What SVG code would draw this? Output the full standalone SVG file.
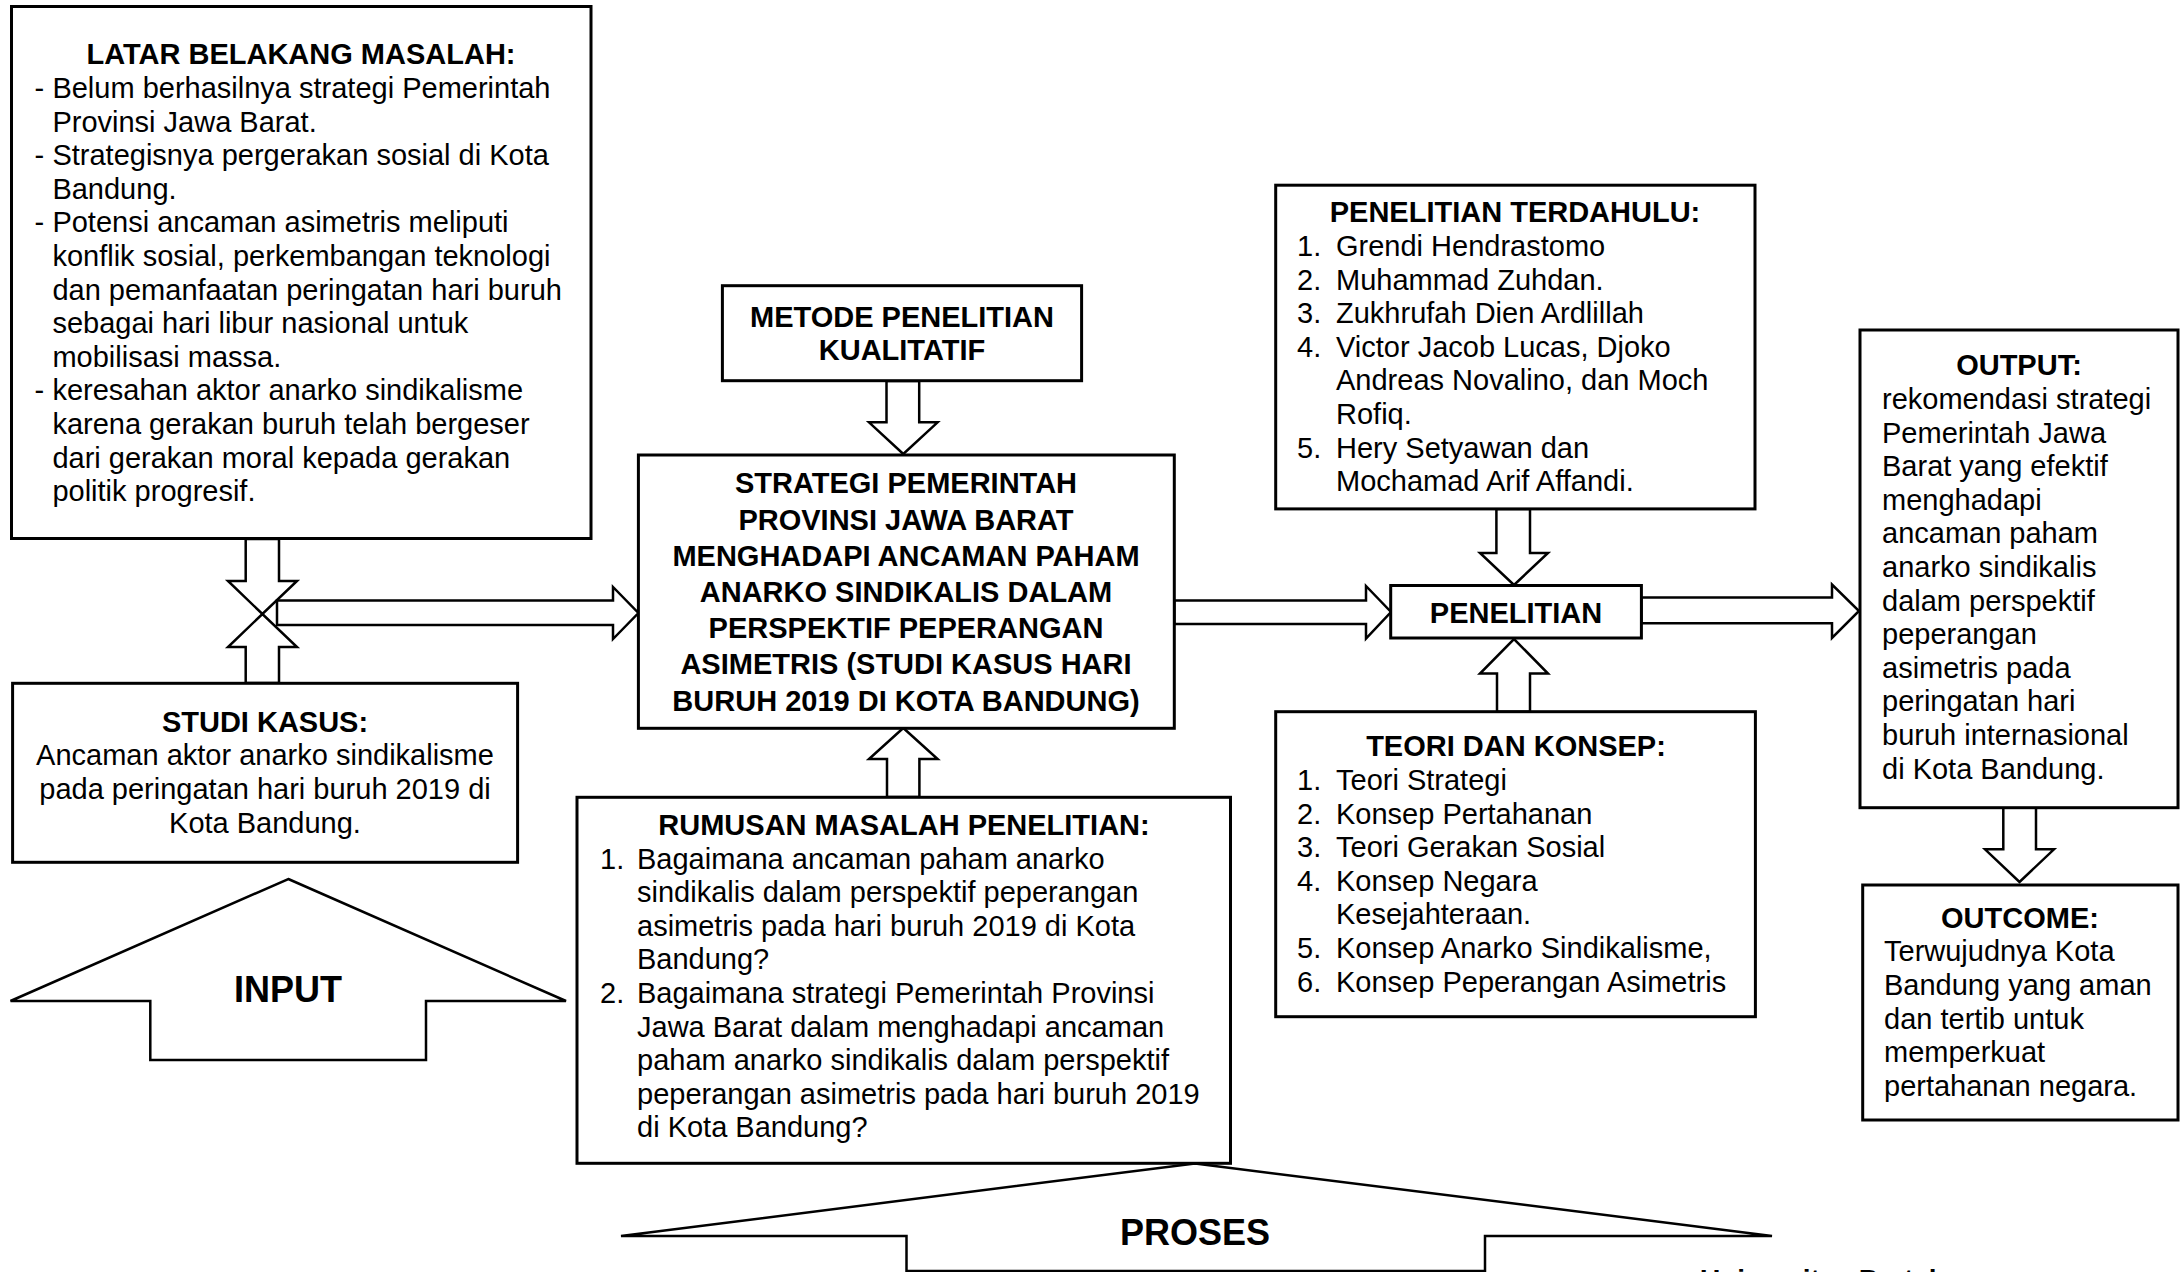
<svg xmlns="http://www.w3.org/2000/svg" width="2180" height="1272" viewBox="0 0 2180 1272">
<style>
.box{fill:#fff;stroke:#000;stroke-width:3}
.arr{fill:#fff;stroke:#000;stroke-width:2.5;stroke-linejoin:miter}
text{font-family:"Liberation Sans",Arial,sans-serif;font-size:29px;fill:#000}
.b{font-weight:bold}
.c{text-anchor:middle}
.big{font-size:36px;font-weight:bold}
</style>
<rect width="2180" height="1272" fill="#fff"/>
<g id="connectors">
<polygon class="arr" points="245.7,539 279,539 279,581 297,581 262.4,614 228,581 245.7,581"/>
<polygon class="arr" points="245.7,683 279,683 279,647 297,647 262.4,614 228,647 245.7,647"/>
<polygon class="arr" points="277,600.5 613,600.5 613,587 638.4,613 613,639 613,625 277,625"/>
<polygon class="arr" points="886.5,381 919.2,381 919.2,422.3 937.6,422.3 903.3,454 869,422.3 886.5,422.3"/>
<polygon class="arr" points="887,797 919.4,797 919.4,759 937.6,759 903.3,728 869,759 887,759"/>
<polygon class="arr" points="1174.3,600.5 1366,600.5 1366,586 1391,612 1366,638.5 1366,624 1174.3,624"/>
<polygon class="arr" points="1496.4,509 1530,509 1530,553 1548,553 1514,585 1480,553 1496.4,553"/>
<polygon class="arr" points="1497,711.7 1530,711.7 1530,673.5 1548,673.5 1514,639 1480,673.5 1497,673.5"/>
<polygon class="arr" points="1641.4,597.5 1832,597.5 1832,584.5 1859,611 1832,638 1832,623.3 1641.4,623.3"/>
<polygon class="arr" points="2003.3,807.7 2036,807.7 2036,849.3 2054,849.3 2019.5,882 1985,849.3 2003.3,849.3"/>
</g>
<g id="latar">
<rect class="box" x="11.5" y="6.5" width="579.5" height="532"/>
<text class="b c" x="301" y="64">LATAR BELAKANG MASALAH:</text>
<text x="34.4" y="98">-</text>
<text x="52.4" y="98">Belum berhasilnya strategi Pemerintah</text>
<text x="52.4" y="131.6">Provinsi Jawa Barat.</text>
<text x="34.4" y="165.2">-</text>
<text x="52.4" y="165.2">Strategisnya pergerakan sosial di Kota</text>
<text x="52.4" y="198.8">Bandung.</text>
<text x="34.4" y="232.4">-</text>
<text x="52.4" y="232.4">Potensi ancaman asimetris meliputi</text>
<text x="52.4" y="266">konflik sosial, perkembangan teknologi</text>
<text x="52.4" y="299.6">dan pemanfaatan peringatan hari buruh</text>
<text x="52.4" y="333.2">sebagai hari libur nasional untuk</text>
<text x="52.4" y="366.8">mobilisasi massa.</text>
<text x="34.4" y="400.4">-</text>
<text x="52.4" y="400.4">keresahan aktor anarko sindikalisme</text>
<text x="52.4" y="434">karena gerakan buruh telah bergeser</text>
<text x="52.4" y="467.6">dari gerakan moral kepada gerakan</text>
<text x="52.4" y="501.2">politik progresif.</text>
</g>
<g id="studi-kasus">
<rect class="box" x="12.6" y="683.3" width="505" height="179"/>
<text class="b c" x="265" y="731.7">STUDI KASUS:</text>
<text class="c" x="265" y="765.3">Ancaman aktor anarko sindikalisme</text>
<text class="c" x="265" y="798.9">pada peringatan hari buruh 2019 di</text>
<text class="c" x="265" y="832.5">Kota Bandung.</text>
</g>
<g id="input">
<polygon class="arr" points="288.3,879 566,1001 426,1001 426,1060 150.3,1060 150.3,1001 10.5,1001"/>
<text class="big c" x="288" y="1002">INPUT</text>
</g>
<g id="metode">
<rect class="box" x="722.4" y="285.7" width="359.2" height="95"/>
<text class="b c" x="902" y="326.7">METODE PENELITIAN</text>
<text class="b c" x="902" y="360">KUALITATIF</text>
</g>
<g id="strategi">
<rect class="box" x="638.4" y="455" width="535.9" height="273.3"/>
<text class="b c" x="906" y="493.3">STRATEGI PEMERINTAH</text>
<text class="b c" x="906" y="529.5">PROVINSI JAWA BARAT</text>
<text class="b c" x="906" y="565.7">MENGHADAPI ANCAMAN PAHAM</text>
<text class="b c" x="906" y="601.9">ANARKO SINDIKALIS DALAM</text>
<text class="b c" x="906" y="638.1">PERSPEKTIF PEPERANGAN</text>
<text class="b c" x="906" y="674.3">ASIMETRIS (STUDI KASUS HARI</text>
<text class="b c" x="906" y="710.5">BURUH 2019 DI KOTA BANDUNG)</text>
</g>
<g id="rumusan">
<rect class="box" x="577" y="797.3" width="653.5" height="366"/>
<text class="b c" x="904" y="835">RUMUSAN MASALAH PENELITIAN:</text>
<text x="600" y="868.6">1.</text>
<text x="637" y="868.6">Bagaimana ancaman paham anarko</text>
<text x="637" y="902.2">sindikalis dalam perspektif peperangan</text>
<text x="637" y="935.8">asimetris pada hari buruh 2019 di Kota</text>
<text x="637" y="969.4">Bandung?</text>
<text x="600" y="1003">2.</text>
<text x="637" y="1003">Bagaimana strategi Pemerintah Provinsi</text>
<text x="637" y="1036.6">Jawa Barat dalam menghadapi ancaman</text>
<text x="637" y="1070.2">paham anarko sindikalis dalam perspektif</text>
<text x="637" y="1103.8">peperangan asimetris pada hari buruh 2019</text>
<text x="637" y="1137.4">di Kota Bandung?</text>
</g>
<g id="proses">
<polygon class="arr" points="1195,1163.5 1772,1236 1485,1236 1485,1271 906.5,1271 906.5,1236 621,1236"/>
<text class="big c" x="1195" y="1245">PROSES</text>
</g>
<g id="terdahulu">
<rect class="box" x="1275.7" y="185.2" width="479.3" height="323.7"/>
<text class="b c" x="1515" y="222">PENELITIAN TERDAHULU:</text>
<text x="1297" y="256">1.</text>
<text x="1336" y="256">Grendi Hendrastomo</text>
<text x="1297" y="289.6">2.</text>
<text x="1336" y="289.6">Muhammad Zuhdan.</text>
<text x="1297" y="323.2">3.</text>
<text x="1336" y="323.2">Zukhrufah Dien Ardlillah</text>
<text x="1297" y="356.8">4.</text>
<text x="1336" y="356.8">Victor Jacob Lucas, Djoko</text>
<text x="1336" y="390.4">Andreas Novalino, dan Moch</text>
<text x="1336" y="424">Rofiq.</text>
<text x="1297" y="457.6">5.</text>
<text x="1336" y="457.6">Hery Setyawan dan</text>
<text x="1336" y="491.2">Mochamad Arif Affandi.</text>
</g>
<g id="penelitian">
<rect class="box" x="1390.7" y="585.5" width="250.7" height="52.5"/>
<text class="b c" x="1516" y="623">PENELITIAN</text>
</g>
<g id="teori">
<rect class="box" x="1275.7" y="711.7" width="479.7" height="305"/>
<text class="b c" x="1516" y="756">TEORI DAN KONSEP:</text>
<text x="1297" y="790">1.</text>
<text x="1336" y="790">Teori Strategi</text>
<text x="1297" y="823.6">2.</text>
<text x="1336" y="823.6">Konsep Pertahanan</text>
<text x="1297" y="857.2">3.</text>
<text x="1336" y="857.2">Teori Gerakan Sosial</text>
<text x="1297" y="890.8">4.</text>
<text x="1336" y="890.8">Konsep Negara</text>
<text x="1336" y="924.4">Kesejahteraan.</text>
<text x="1297" y="958">5.</text>
<text x="1336" y="958">Konsep Anarko Sindikalisme,</text>
<text x="1297" y="991.6">6.</text>
<text x="1336" y="991.6">Konsep Peperangan Asimetris</text>
</g>
<g id="output">
<rect class="box" x="1860" y="330" width="318" height="477.7"/>
<text class="b c" x="2019" y="375">OUTPUT:</text>
<text x="1882" y="409">rekomendasi strategi</text>
<text x="1882" y="442.6">Pemerintah Jawa</text>
<text x="1882" y="476.2">Barat yang efektif</text>
<text x="1882" y="509.8">menghadapi</text>
<text x="1882" y="543.4">ancaman paham</text>
<text x="1882" y="577">anarko sindikalis</text>
<text x="1882" y="610.6">dalam perspektif</text>
<text x="1882" y="644.2">peperangan</text>
<text x="1882" y="677.8">asimetris pada</text>
<text x="1882" y="711.4">peringatan hari</text>
<text x="1882" y="745">buruh internasional</text>
<text x="1882" y="778.6">di Kota Bandung.</text>
</g>
<g id="outcome">
<rect class="box" x="1862.7" y="885" width="315.3" height="235"/>
<text class="b c" x="2020" y="927.7">OUTCOME:</text>
<text x="1884" y="961.3">Terwujudnya Kota</text>
<text x="1884" y="994.9">Bandung yang aman</text>
<text x="1884" y="1028.5">dan tertib untuk</text>
<text x="1884" y="1062.1">memperkuat</text>
<text x="1884" y="1095.7">pertahanan negara.</text>
</g>
<g id="footer">
<text class="b" x="1700" y="1289" style="font-size:28px">Universitas Pertahanan</text>
</g>
</svg>
